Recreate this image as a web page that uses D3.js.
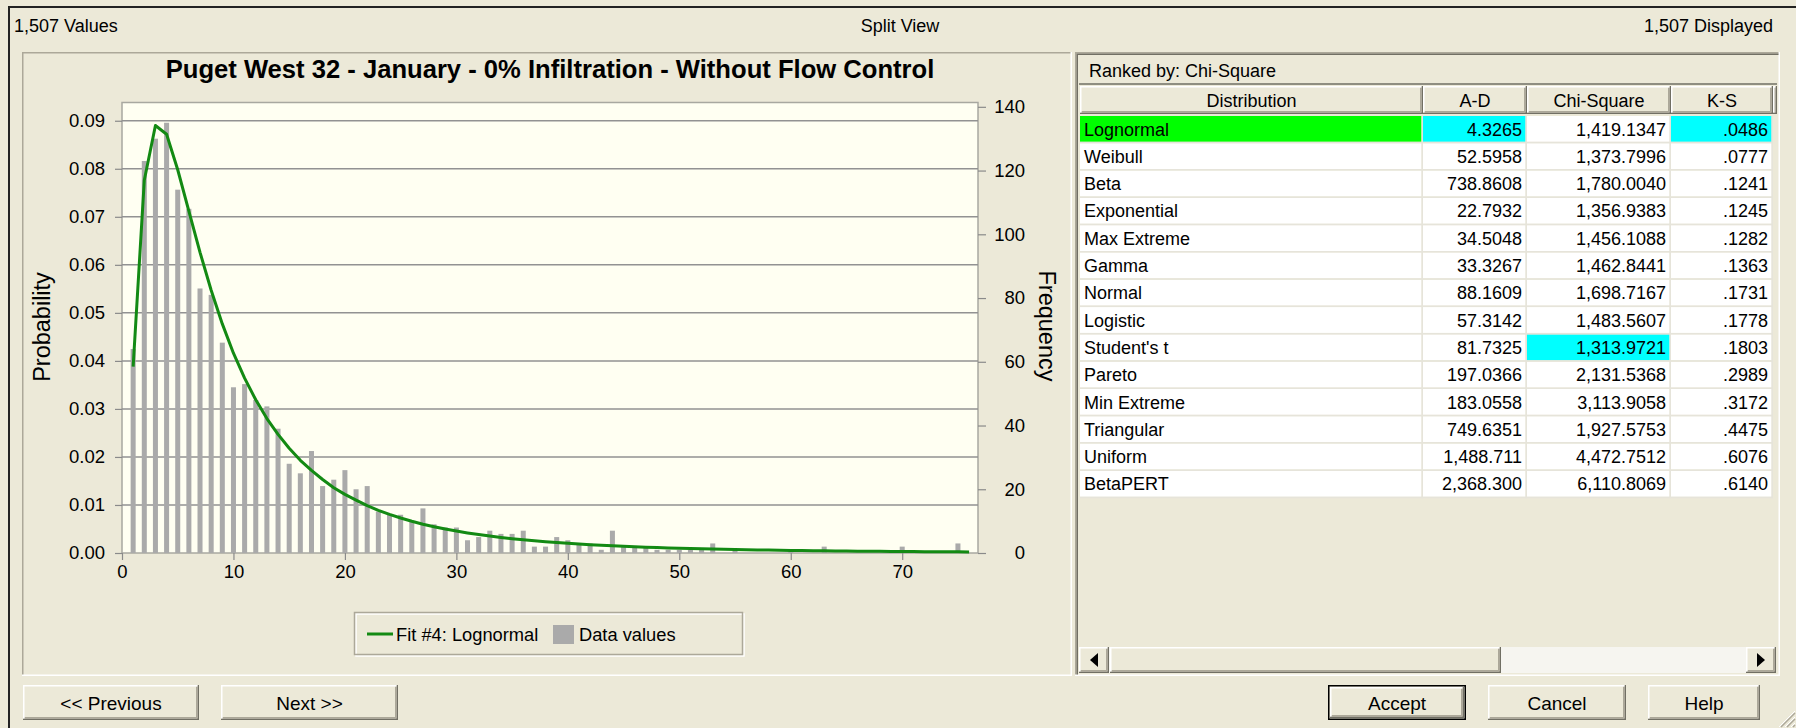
<!DOCTYPE html>
<html>
<head>
<meta charset="utf-8">
<script src="https://cdn.jsdelivr.net/npm/d3@7"></script>
<style>
  body { margin: 0; background: #ECE9D8; }
  svg { display: block; font-family: "Liberation Sans", Arial, sans-serif; }
</style>
</head>
<body>
<svg id="dlg" width="1796" height="728"></svg>
<script>
// ---------- data ----------
const totalValues = 1507;
const displayedValues = 1507;
const chartTitle = "Puget West 32 - January - 0% Infiltration - Without Flow Control";
const fitName = "Lognormal";
const fitNumber = 4;

// histogram bin centres and counts
const binCenters = [1,2,3,4,5,6,7,8,9,10,11,12,13,14,15,16,17,18,19,20,
  21,22,23,24,25,26,27,28,29,30,31,32,33,34,35,36,37,38,39,40,
  41,42,43,44,45,46,47,48,49,50,51,52,53,54,55,56,57,58,59,60,
  61,62,63,64,65,66,67,68,69,70,71,72,73,74,75,76];
const frequencies = [64,123,130,135,114,108,83,81,66,52,
  53,48,46,39,28,25,32,21,23,26,
  20,21,13,12,12,10,14,9,8,8,
  4,5,7,6,6,7,2,2,5,4,
  3,3,1,7,2,2,2,1,1,1,
  1,1,3,0,1,0,0,0,0,1,
  0,0,2,0,0,0,0,0,0,2,
  0,0,0,0,3,0];
// fitted lognormal probability at each bin centre
const fitProbabilities = [0.0388,0.0776,0.0890,0.0872,0.0798,0.0712,0.0626,0.0547,0.0477,0.0416,
  0.0364,0.0319,0.0280,0.0247,0.0218,0.0193,0.0172,0.0153,0.0136,0.0122,
  0.0110,0.00986,0.00889,0.00804,0.00728,0.00660,0.00600,0.00547,0.00499,0.00456,
  0.00418,0.00383,0.00352,0.00323,0.00298,0.00275,0.00254,0.00234,0.00217,0.00201,
  0.00187,0.00173,0.00161,0.00150,0.00140,0.00130,0.00122,0.00114,0.00106,0.00099,
  0.00093,0.00087,0.00082,0.00077,0.00072,0.00068,0.00064,0.00060,0.00057,0.00054,
  0.00051,0.00048,0.00045,0.00043,0.00040,0.00038,0.00036,0.00034,0.00032,0.00031,
  0.00029,0.00028,0.00026,0.00025,0.00024,0.00023];

const probTicks = [0, 0.01, 0.02, 0.03, 0.04, 0.05, 0.06, 0.07, 0.08, 0.09];
const freqTicks = [0, 20, 40, 60, 80, 100, 120, 140];
const xTicks = [0, 10, 20, 30, 40, 50, 60, 70];
const xMax = 76.8;
const probMax = 0.0938;

// goodness-of-fit table
const distributions = ["Lognormal","Weibull","Beta","Exponential","Max Extreme","Gamma","Normal",
  "Logistic","Student's t","Pareto","Min Extreme","Triangular","Uniform","BetaPERT"];
const adValues = [4.3265, 52.5958, 738.8608, 22.7932, 34.5048, 33.3267, 88.1609,
  57.3142, 81.7325, 197.0366, 183.0558, 749.6351, 1488.711, 2368.300];
const chiValues = [1419.1347, 1373.7996, 1780.0040, 1356.9383, 1456.1088, 1462.8441, 1698.7167,
  1483.5607, 1313.9721, 2131.5368, 3113.9058, 1927.5753, 4472.7512, 6110.8069];
const ksValues = [0.0486, 0.0777, 0.1241, 0.1245, 0.1282, 0.1363, 0.1731,
  0.1778, 0.1803, 0.2989, 0.3172, 0.4475, 0.6076, 0.6140];
const rankedBy = "Chi-Square";

// ---------- helpers ----------
const svg = d3.select("#dlg");
const BG = "#ECE9D8";

function raised(g, x, y, w, h) {
  g.append("rect").attr("x", x).attr("y", y).attr("width", w).attr("height", h).attr("fill", BG);
  g.append("path").attr("d", `M${x},${y + h - 0.75}H${x + w - 0.75}V${y}`)
    .attr("fill", "none").attr("stroke", "#716F64").attr("stroke-width", 1.5);
  g.append("path").attr("d", `M${x + 1.5},${y + h - 2.25}H${x + w - 2.25}V${y + 1.5}`)
    .attr("fill", "none").attr("stroke", "#ACA899").attr("stroke-width", 1.5);
  g.append("path").attr("d", `M${x + 0.75},${y + h - 1.5}V${y + 0.75}H${x + w - 1.5}`)
    .attr("fill", "none").attr("stroke", "#FFFFFF").attr("stroke-width", 1.5);
}
function sunken(g, x, y, w, h, inner) {
  g.append("path").attr("d", `M${x + 0.75},${y + h}V${y + 0.75}H${x + w}`)
    .attr("fill", "none").attr("stroke", "#ACA899").attr("stroke-width", 1.5);
  g.append("path").attr("d", `M${x},${y + h - 0.75}H${x + w - 0.75}V${y}`)
    .attr("fill", "none").attr("stroke", "#FFFFFF").attr("stroke-width", 1.5);
  if (inner) {
    g.append("path").attr("d", `M${x + 2.25},${y + h - 1.5}V${y + 2.25}H${x + w - 1.5}`)
      .attr("fill", "none").attr("stroke", "#716F64").attr("stroke-width", 1.5);
  }
}
function button(g, x, y, w, h, label, isDefault) {
  if (isDefault) {
    g.append("rect").attr("x", x + 0.75).attr("y", y + 0.75).attr("width", w - 1.5).attr("height", h - 1.5)
      .attr("fill", BG).attr("stroke", "#000").attr("stroke-width", 1.5);
    raised(g, x + 2, y + 2, w - 4, h - 4);
  } else {
    raised(g, x, y, w, h);
  }
  g.append("text").attr("x", x + w / 2).attr("y", y + h / 2 + 7)
    .attr("text-anchor", "middle").attr("font-size", 19).attr("fill", "#000").text(label);
}

// ---------- window frame and header line ----------
svg.append("rect").attr("width", 1796).attr("height", 728).attr("fill", BG);
svg.append("path").attr("d", "M9,728V7H1796").attr("fill", "none").attr("stroke", "#222").attr("stroke-width", 2);

const fmtInt = d3.format(",");
svg.append("text").attr("x", 14).attr("y", 32).attr("font-size", 18).text(`${fmtInt(totalValues)} Values`);
svg.append("text").attr("x", 900).attr("y", 32).attr("font-size", 18).attr("text-anchor", "middle").text("Split View");
svg.append("text").attr("x", 1773).attr("y", 32).attr("font-size", 18).attr("text-anchor", "end").text(`${fmtInt(displayedValues)} Displayed`);

// ---------- left panel: histogram with fitted curve ----------
const left = svg.append("g");
sunken(left, 22, 52, 1050, 624, false);

left.append("text").attr("x", 550).attr("y", 78).attr("text-anchor", "middle")
  .attr("font-size", 25.6).attr("font-weight", "bold").text(chartTitle);

const plot = { x0: 122, x1: 978, y0: 102.5, y1: 553 };
const x = d3.scaleLinear().domain([0, xMax]).range([plot.x0, plot.x1]);
const yProb = d3.scaleLinear().domain([0, probMax]).range([plot.y1, plot.y0]);
const yFreq = d3.scaleLinear().domain([0, probMax * totalValues]).range([plot.y1, plot.y0]);

left.append("rect").attr("x", plot.x0).attr("y", plot.y0)
  .attr("width", plot.x1 - plot.x0).attr("height", plot.y1 - plot.y0)
  .attr("fill", "#FFFFF2").attr("stroke", "#A8A8A0").attr("stroke-width", 1.5);

// horizontal grid
left.append("g").selectAll("line").data(probTicks.filter(d => d > 0)).join("line")
  .attr("x1", plot.x0).attr("x2", plot.x1)
  .attr("y1", d => yProb(d)).attr("y2", d => yProb(d))
  .attr("stroke", "#929292").attr("stroke-width", 1.5);

// data bars (frequency axis)
const barW = x(0.45) - x(0);
left.append("g").selectAll("rect").data(binCenters.map((c, i) => ({ c, f: frequencies[i] })))
  .join("rect")
  .attr("x", d => x(d.c) - barW / 2)
  .attr("y", d => yFreq(d.f))
  .attr("width", barW)
  .attr("height", d => yFreq(0) - yFreq(d.f))
  .attr("fill", "#AAAAAA");

// fitted curve (probability axis)
const line = d3.line().x(d => x(d.c)).y(d => yProb(d.p));
left.append("path")
  .datum(binCenters.map((c, i) => ({ c, p: fitProbabilities[i] })))
  .attr("d", line).attr("fill", "none").attr("stroke", "#138A13")
  .attr("stroke-width", 3).attr("stroke-linejoin", "round");

// axes
function styleAxis(g) {
  g.select(".domain").remove();
  g.selectAll(".tick line").attr("stroke", "#8A8A8A").attr("stroke-width", 1.2);
  g.selectAll(".tick text").attr("fill", "#000").attr("font-size", 18.5)
    .attr("font-family", "'Liberation Sans', Arial, sans-serif");
}
left.append("g").attr("transform", `translate(0,${plot.y1})`)
  .call(d3.axisBottom(x).tickValues(xTicks).tickFormat(d3.format("d")).tickSize(7).tickPadding(5))
  .call(styleAxis);
left.append("g").attr("transform", `translate(${plot.x0},0)`)
  .call(d3.axisLeft(yProb).tickValues(probTicks).tickFormat(d3.format(".2f")).tickSize(7).tickPadding(10))
  .call(styleAxis);
const rAxis = left.append("g").attr("transform", `translate(${plot.x1},0)`)
  .call(d3.axisRight(yFreq).tickValues(freqTicks).tickFormat(d3.format("d")).tickSize(8).tickPadding(6))
  .call(styleAxis);
rAxis.selectAll(".tick text").attr("text-anchor", "end").attr("x", 47);

left.append("text").attr("transform", "translate(50,327) rotate(-90)")
  .attr("text-anchor", "middle").attr("font-size", 23.5).text("Probability");
left.append("text").attr("transform", "translate(1039,326) rotate(90)")
  .attr("text-anchor", "middle").attr("font-size", 23.5).text("Frequency");

// legend
const lg = left.append("g");
lg.append("rect").attr("x", 356).attr("y", 614).attr("width", 388).attr("height", 42)
  .attr("fill", "none").attr("stroke", "#FFFFFF").attr("stroke-width", 1.5);
lg.append("rect").attr("x", 354.5).attr("y", 612.5).attr("width", 388).attr("height", 42)
  .attr("fill", "none").attr("stroke", "#ACA899").attr("stroke-width", 1.5);
lg.append("line").attr("x1", 367).attr("x2", 393).attr("y1", 634).attr("y2", 634)
  .attr("stroke", "#138A13").attr("stroke-width", 3);
lg.append("text").attr("x", 396).attr("y", 640.5).attr("font-size", 18.3).text(`Fit #${fitNumber}: ${fitName}`);
lg.append("rect").attr("x", 553).attr("y", 625).attr("width", 21).attr("height", 19).attr("fill", "#AAAAAA");
lg.append("text").attr("x", 579).attr("y", 640.5).attr("font-size", 18.3).text("Data values");

// ---------- right panel: ranking table ----------
const right = svg.append("g");
sunken(right, 1075, 52, 705, 624, true);

right.append("rect").attr("x", 1079).attr("y", 55).attr("width", 698).attr("height", 29).attr("fill", BG);
right.append("line").attr("x1", 1079).attr("x2", 1777).attr("y1", 84).attr("y2", 84)
  .attr("stroke", "#716F64").attr("stroke-width", 1.5);
right.append("text").attr("x", 1089).attr("y", 77).attr("font-size", 18).text(`Ranked by: ${rankedBy}`);

const cols = [
  { name: "Distribution", x0: 1080, x1: 1423 },
  { name: "A-D", x0: 1423, x1: 1527 },
  { name: "Chi-Square", x0: 1527, x1: 1671 },
  { name: "K-S", x0: 1671, x1: 1773 }
];
const headY = 86, headH = 28, rowY0 = 116, rowH = 27.3;

cols.forEach(c => {
  raised(right, c.x0, headY, c.x1 - c.x0, headH);
  right.append("text").attr("x", (c.x0 + c.x1) / 2).attr("y", headY + 20.5)
    .attr("text-anchor", "middle").attr("font-size", 18).text(c.name);
});
raised(right, 1773, headY, 4, headH);

const adFmt = v => v >= 1000 ? d3.format(",.3f")(v) : d3.format(",.4f")(v);
const chiFmt = d3.format(",.4f");
const ksFmt = v => d3.format(".4f")(v).replace(/^0/, "");

const bestAD = d3.minIndex(adValues);
const bestChi = d3.minIndex(chiValues);
const bestKS = d3.minIndex(ksValues);

const rows = distributions.map((d, i) => ({
  cells: [
    { text: d, fill: i === 0 ? "#00FF00" : "#FFFFFF", anchor: "start" },
    { text: adFmt(adValues[i]), fill: i === bestAD ? "#00FFFF" : "#FFFFFF", anchor: "end" },
    { text: chiFmt(chiValues[i]), fill: i === bestChi ? "#00FFFF" : "#FFFFFF", anchor: "end" },
    { text: ksFmt(ksValues[i]), fill: i === bestKS ? "#00FFFF" : "#FFFFFF", anchor: "end" }
  ]
}));

const rowG = right.append("g").selectAll("g").data(rows).join("g")
  .attr("transform", (d, i) => `translate(0,${rowY0 + i * rowH})`);
cols.forEach((c, ci) => {
  rowG.append("rect").attr("x", c.x0).attr("y", 0)
    .attr("width", c.x1 - c.x0 - 1.5).attr("height", rowH - 1.5)
    .attr("fill", d => d.cells[ci].fill);
  rowG.append("text")
    .attr("x", ci === 0 ? c.x0 + 4 : c.x1 - 5)
    .attr("y", 19.5)
    .attr("text-anchor", d => d.cells[ci].anchor)
    .attr("font-size", 18)
    .text(d => d.cells[ci].text);
});
// cell separators
right.append("g").selectAll("line").data(rows).join("line")
  .attr("x1", 1080).attr("x2", 1773)
  .attr("y1", (d, i) => rowY0 + (i + 1) * rowH - 0.75).attr("y2", (d, i) => rowY0 + (i + 1) * rowH - 0.75)
  .attr("stroke", "#E6E4DA").attr("stroke-width", 1.5);
right.append("g").selectAll("line").data(cols).join("line")
  .attr("x1", c => c.x1 - 0.75).attr("x2", c => c.x1 - 0.75)
  .attr("y1", rowY0).attr("y2", rowY0 + rows.length * rowH)
  .attr("stroke", "#E6E4DA").attr("stroke-width", 1.5);

// horizontal scrollbar
const sb = right.append("g");
sb.append("rect").attr("x", 1079).attr("y", 647).attr("width", 697).attr("height", 26).attr("fill", "#F6F5F0");
raised(sb, 1079, 647, 30, 26);
raised(sb, 1110, 647, 391, 26);
raised(sb, 1746, 647, 30, 26);
sb.append("path").attr("d", "M1098,653L1090,660L1098,667Z").attr("fill", "#000");
sb.append("path").attr("d", "M1757,653L1765,660L1757,667Z").attr("fill", "#000");

// ---------- bottom buttons ----------
const btns = svg.append("g");
button(btns, 23, 685, 176, 35, "<< Previous", false);
button(btns, 221, 685, 177, 35, "Next >>", false);
button(btns, 1328, 685, 138, 35, "Accept", true);
button(btns, 1488, 685, 138, 35, "Cancel", false);
button(btns, 1648, 685, 112, 35, "Help", false);

// size grip
const grip = svg.append("g");
[0, 6, 12].forEach(o => {
  grip.append("line").attr("x1", 1793 - o).attr("y1", 727).attr("x2", 1795).attr("y2", 725 - o)
    .attr("stroke", "#ACA899").attr("stroke-width", 1.5);
  grip.append("line").attr("x1", 1791 - o).attr("y1", 727).attr("x2", 1795).attr("y2", 723 - o)
    .attr("stroke", "#FFFFFF").attr("stroke-width", 1);
});
</script>
</body>
</html>
